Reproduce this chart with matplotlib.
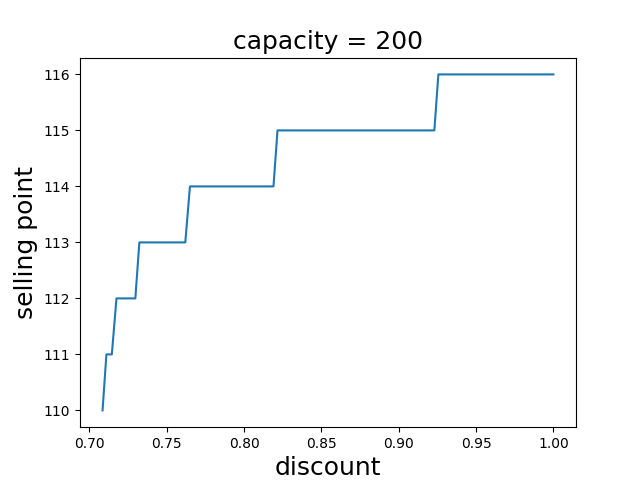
import matplotlib
matplotlib.use("Agg")
import matplotlib.pyplot as plt

# values
discount = [0.7085, 0.711, 0.7145, 0.7175, 0.7297, 0.7323, 0.762, 0.765,
            0.819, 0.8216, 0.923, 0.9256, 1.0]
selling_point = [110, 111, 111, 112, 112, 113, 113, 114,
                 114, 115, 115, 116, 116]

fig, ax = plt.subplots(figsize=(6.4, 4.8), dpi=100)
ax.plot(discount, selling_point)
ax.set_title("capacity = 200", fontsize=18)
ax.set_xlabel("discount", fontsize=18)
ax.set_ylabel("selling point", fontsize=18)
fig.savefig("out.png")
